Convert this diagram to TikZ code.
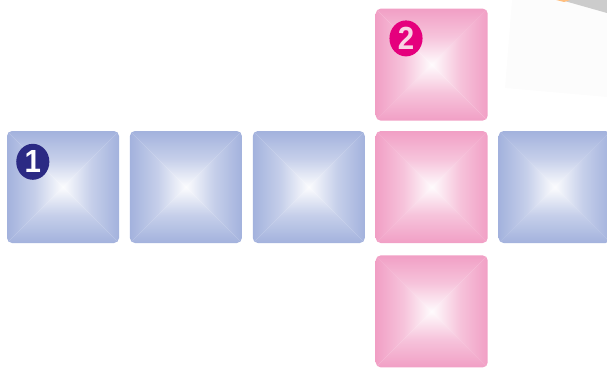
\documentclass[tikz,border=0pt]{standalone}
\usepackage{fontspec}
\setsansfont{Liberation Sans}
\usetikzlibrary{positioning}
\definecolor{tileblue}{HTML}{A3B2DD}
\definecolor{tilepink}{HTML}{F19FC5}
\definecolor{badgenavy}{HTML}{2B2A84}
\definecolor{badgemagenta}{HTML}{E5007D}
\definecolor{badgelight}{HTML}{F9D3E4}
\tikzset{
  facebox/.style={
    minimum width=112pt,
    minimum height=112pt,
    inner sep=0pt,
    rounded corners=5pt,
    path picture={
      \path (path picture bounding box.center);
      \shade[sharp corners, bottom color=#1, top color=white!96!#1, middle color=#1!62!white]
        (path picture bounding box.south west) -- (path picture bounding box.south east)
        -- (path picture bounding box.center) -- cycle;
      \shade[sharp corners, left color=#1, right color=white!96!#1, middle color=#1!62!white]
        (path picture bounding box.north west) -- (path picture bounding box.south west)
        -- (path picture bounding box.center) -- cycle;
      \shade[sharp corners, right color=#1, left color=white!96!#1, middle color=#1!62!white]
        (path picture bounding box.north east) -- (path picture bounding box.south east)
        -- (path picture bounding box.center) -- cycle;
      \shade[sharp corners, top color=#1, bottom color=white!96!#1, middle color=#1!62!white]
        (path picture bounding box.north west) -- (path picture bounding box.north east)
        -- (path picture bounding box.center) -- cycle;
    }
  },
  badge/.style={
    circle,
    minimum size=36pt,
    inner sep=0pt,
    font=\sffamily\bfseries\fontsize{32}{32}\selectfont
  }
}

\begin{document}
\begin{tikzpicture}[node distance=10pt and 10.5pt]
  \useasboundingbox (0pt,0pt) rectangle (607pt,-370pt);
  % faint sheet in the corner
  \fill[gray!2] (512pt,0pt) -- (505pt,-88pt) -- (607pt,-97pt) -- (607pt,0pt) -- cycle;
  \fill[gray!40] (561pt,0pt) -- (607pt,0pt) -- (607pt,-13pt) -- cycle;
  \fill[orange!50] (556pt,0pt) -- (570pt,0pt) -- (564pt,-2pt) -- cycle;

  % row of faces
  \node[facebox=tileblue] (face1) at (63pt,-187pt) {};
  \node[facebox=tileblue, right=of face1] (face2) {};
  \node[facebox=tileblue, right=of face2] (face3) {};
  \node[facebox=tilepink, right=of face3] (face4) {};
  \node[facebox=tileblue, right=of face4] (face5) {};
  % column of faces
  \node[facebox=tilepink, above=of face4] (facetop) {};
  \node[facebox=tilepink, below=12pt of face4] (facebottom) {};

  % numbers
  \node[badge, fill=badgenavy, text=white, xscale=0.92] (one) at ([xshift=26pt,yshift=-31pt]face1.north west) {1};
  \node[badge, fill=badgemagenta, text=badgelight, xscale=0.92] (two) at ([xshift=30.5pt,yshift=-30pt]facetop.north west) {2};
\end{tikzpicture}
\end{document}
